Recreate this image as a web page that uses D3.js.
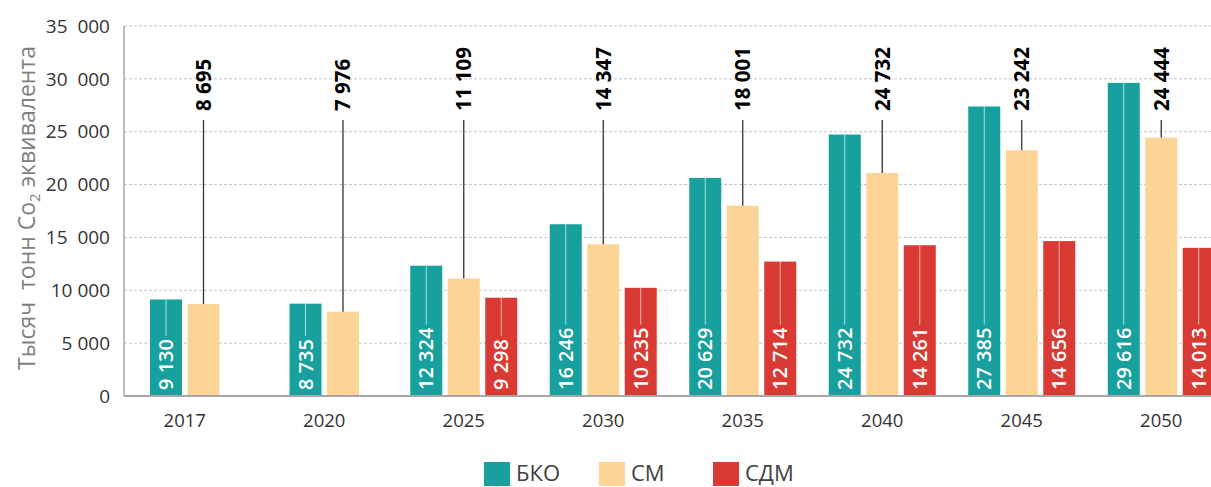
<!DOCTYPE html>
<html>
<head>
<meta charset="utf-8">
<script src="https://cdn.jsdelivr.net/npm/d3@7"></script>
<style>
  body { margin: 0; background: #fff; }
  svg { display: block; font-family: 'Open Sans', sans-serif; }
  text { white-space: pre; }
</style>
</head>
<body>
<div id="chart"></div>
<script>
// данные ---------------------------------------------
var years = ['2017', '2020', '2025', '2030', '2035', '2040', '2045', '2050']
var bkoValues = [9130, 8735, 12324, 16246, 20629, 24732, 27385, 29616]
var smValues = [8695, 7976, 11109, 14347, 18001, 21100, 23242, 24444]
var smLabels = [8695, 7976, 11109, 14347, 18001, 24732, 23242, 24444]
var sdmValues = [null, null, 9298, 10235, 12714, 14261, 14656, 14013]
var yTicks = [0, 5000, 10000, 15000, 20000, 25000, 30000, 35000]
var yTickLabels = ['0', '5 000', '10 000', '15  000', '20  000', '25  000', '30  000', '35  000']
var seriesNames = ['БКО', 'СМ', 'СДМ']
var colors = ['#17a09e', '#fcd596', '#d93a33']

var width = 1211
var height = 487
var fmt = function (v) { return d3.format(',')(v).replace(/,/g, ' ') }

var svg = d3.select('#chart').append('svg')
  .attr('width', width)
  .attr('height', height)

var x = d3.scalePoint().domain(years).range([115, 1231]).padding(0.5)
var y = d3.scaleLinear().domain([0, 35000]).range([396, 26])
var barW = 32
var barStep = 37.5

// сетка
svg.append('g')
  .selectAll('line')
  .data(yTicks.slice(1))
  .enter().append('line')
  .attr('x1', 124).attr('x2', width)
  .attr('y1', function (d) { return y(d) })
  .attr('y2', function (d) { return y(d) })
  .attr('stroke', '#c4c4c4')
  .attr('stroke-width', 1)
  .attr('stroke-dasharray', '3,2')

// подписи оси Y
svg.append('g')
  .selectAll('text')
  .data(yTicks)
  .enter().append('text')
  .attr('x', 110)
  .attr('y', function (d) { return y(d) })
  .attr('dy', '0.35em')
  .attr('text-anchor', 'end')
  .attr('font-size', 19)
  .attr('fill', '#333')
  .text(function (d, i) { return yTickLabels[i] })

svg.append('line')
  .attr('x1', 124).attr('x2', 124)
  .attr('y1', y(35000)).attr('y2', y(0))
  .attr('stroke', '#a6a6a6').attr('stroke-width', 1.5)

// заголовок оси
var title = svg.append('text')
  .attr('transform', 'translate(27,208) rotate(-90)')
  .attr('text-anchor', 'middle')
  .attr('dy', '0.35em')
  .attr('font-size', 23)
  .attr('fill', '#7f7f7f')
title.append('tspan').text('Тысяч  тонн Co')
title.append('tspan').attr('font-size', 15).attr('dy', 5).text('2')
title.append('tspan').attr('dy', -5).text(' эквивалента')

// столбцы
var rows = years.map(function (yr, i) {
  var vals = [bkoValues[i], smValues[i], sdmValues[i]]
  var bars = []
  vals.forEach(function (v, s) {
    if (v != null) bars.push({ year: yr, s: s, value: v, idx: i })
  })
  bars.forEach(function (b, k) {
    b.cx = x(yr) + (k - (bars.length - 1) / 2) * barStep
  })
  return bars
})
var allBars = [].concat.apply([], rows)

var barG = svg.append('g')
barG.selectAll('rect')
  .data(allBars)
  .enter().append('rect')
  .attr('x', function (d) { return d.cx - barW / 2 })
  .attr('width', barW)
  .attr('y', function (d) { return y(d.value) })
  .attr('height', function (d) { return y(0) - y(d.value) })
  .attr('fill', function (d) { return colors[d.s] })

// подписи внутри столбцов (БКО и СДМ)
var inner = allBars.filter(function (d) { return d.s !== 1 })
inner.forEach(function (d) {
  var t = barG.append('text')
    .attr('transform', 'translate(' + d.cx + ',390) rotate(-90)')
    .attr('dy', '0.36em')
    .attr('text-anchor', 'start')
    .attr('font-size', 20)
    .attr('font-weight', 600)
    .attr('fill', '#fff')
    .text(fmt(d.value))
  var len = t.node().getComputedTextLength()
  var top = 390 - len - 3
  if (top > y(d.value)) {
    barG.append('line')
      .attr('x1', d.cx).attr('x2', d.cx)
      .attr('y1', top).attr('y2', y(d.value))
      .attr('stroke', '#fff')
      .attr('stroke-opacity', 0.65)
      .attr('stroke-width', 1)
  }
})

// выноски СМ
var smBars = allBars.filter(function (d) { return d.s === 1 })
smBars.forEach(function (d) {
  barG.append('line')
    .attr('x1', d.cx).attr('x2', d.cx)
    .attr('y1', 120).attr('y2', y(d.value))
    .attr('stroke', '#333')
    .attr('stroke-width', 1.3)
  barG.append('text')
    .attr('transform', 'translate(' + d.cx + ',111) rotate(-90)')
    .attr('dy', '0.36em')
    .attr('text-anchor', 'start')
    .attr('font-size', 20.5)
    .attr('font-weight', 700)
    .attr('fill', '#000')
    .text(fmt(smLabels[d.idx]))
})

// ось X
svg.append('line')
  .attr('x1', 124).attr('x2', width)
  .attr('y1', y(0)).attr('y2', y(0))
  .attr('stroke', '#a6a6a6').attr('stroke-width', 2)

svg.append('g')
  .selectAll('text')
  .data(years)
  .enter().append('text')
  .attr('x', function (d, i) {
    var r = rows[i]
    return (r[0].cx + r[r.length - 1].cx) / 2
  })
  .attr('y', 427)
  .attr('text-anchor', 'middle')
  .attr('font-size', 18.5)
  .attr('fill', '#333')
  .text(function (d) { return d })

// легенда
var legendX = [484, 599, 713]
var lg = svg.append('g')
seriesNames.forEach(function (name, i) {
  lg.append('rect')
    .attr('x', legendX[i]).attr('y', 462)
    .attr('width', 26).attr('height', 24)
    .attr('fill', colors[i])
  lg.append('text')
    .attr('x', legendX[i] + 32).attr('y', 481)
    .attr('font-size', 22)
    .attr('fill', '#404040')
    .text(name)
})
</script>
</body>
</html>
